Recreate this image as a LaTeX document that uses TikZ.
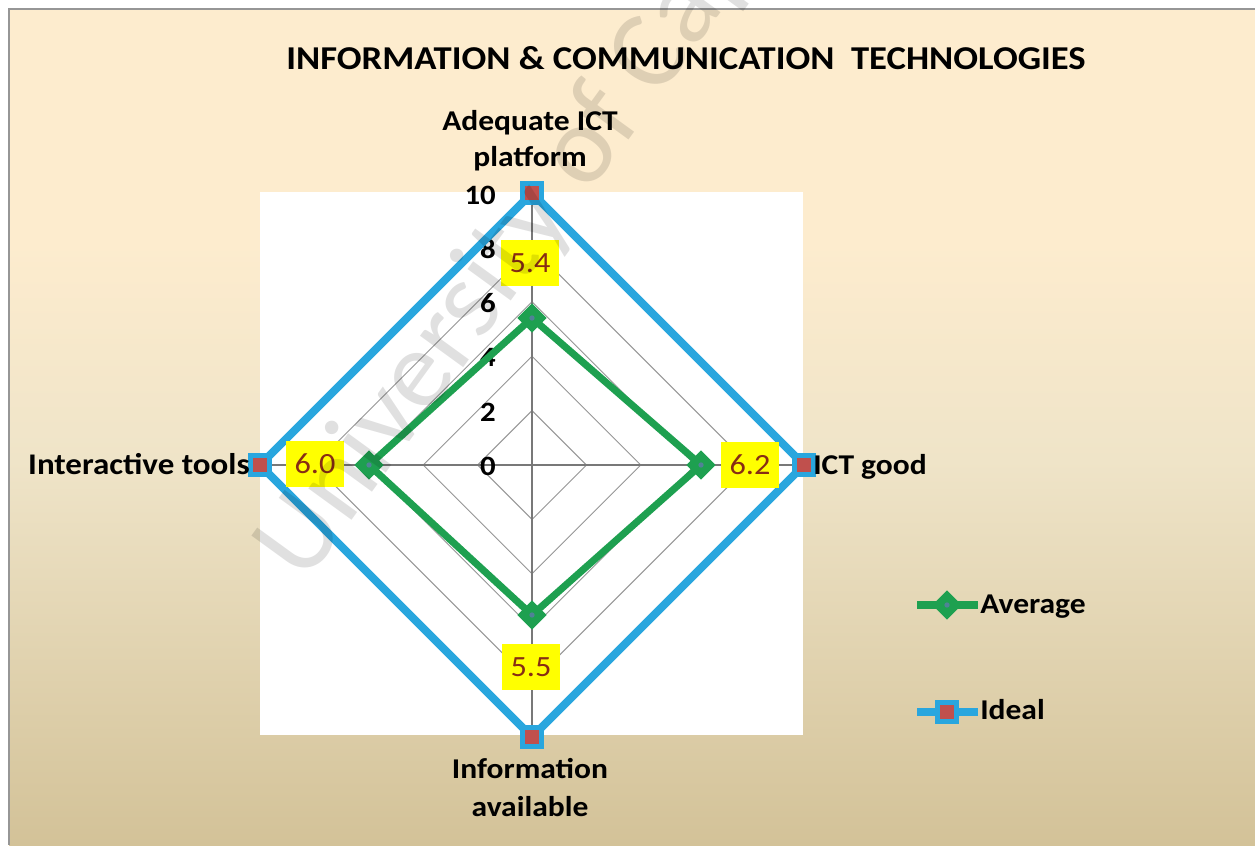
\documentclass[tikz,border=0pt]{standalone}
\usepackage{fontspec}
\setmainfont{Carlito}[FakeStretch=1.1]
\newfontfamily\wmfont{Carlito}
\usetikzlibrary{shapes.geometric}
\definecolor{bgtop}{RGB}{253,236,206}
\definecolor{bgmid}{RGB}{239,228,200}
\definecolor{bgbot}{RGB}{211,194,152}
\definecolor{framegray}{RGB}{150,150,150}
\definecolor{idealblue}{RGB}{41,166,222}
\definecolor{idealred}{RGB}{192,80,77}
\definecolor{avggreen}{RGB}{30,160,80}
\definecolor{avgdot}{RGB}{80,130,150}
\definecolor{lblyellow}{RGB}{255,255,0}
\definecolor{lbltext}{RGB}{135,45,20}
\definecolor{gridgray}{RGB}{150,150,150}
\definecolor{axisgray}{RGB}{120,120,120}
\pgfdeclareverticalshading{bgshade}{100bp}{color(0bp)=(bgbot); color(25bp)=(bgbot); color(48bp)=(bgmid); color(61bp)=(bgtop); color(100bp)=(bgtop)}
\begin{document}
\begin{tikzpicture}[x=0.75pt,y=-0.75pt,
  gridline/.style={draw=gridgray,line width=0.7pt},
  axisline/.style={draw=axisgray,line width=0.8pt},
  idealline/.style={draw=idealblue,line width=6pt,line join=miter},
  avgline/.style={draw=avggreen,line width=5.3pt,line join=round},
  idealmark/.style={rectangle,fill=idealblue,minimum size=18pt,inner sep=0pt,
    path picture={\fill[idealred] ([shift={(-5.2pt,-5.2pt)}]path picture bounding box.center) rectangle ([shift={(5.2pt,5.2pt)}]path picture bounding box.center);}},
  avgmark/.style={diamond,fill=avggreen,minimum size=22pt,inner sep=0pt,
    path picture={\fill[avgdot] (path picture bounding box.center) circle (2pt);}},
  datalbl/.style={rectangle,fill=lblyellow,text=lbltext,minimum width=43pt,minimum height=35pt,inner sep=0pt,font=\fontsize{22}{24}\selectfont},
  axlbl/.style={font=\fontsize{21.5}{27}\bfseries,inner sep=0pt,text=black},
  ticklbl/.style={font=\fontsize{21}{24}\bfseries,inner sep=0pt,anchor=base east},
  titlelbl/.style={font=\fontsize{25}{30}\bfseries,inner sep=0pt}
]
\useasboundingbox (0,0) rectangle (1255,845);
\fill[white] (0,0) rectangle (1255,845);
\shade[shading=bgshade] (9,9) rectangle (1255,845);
\draw[framegray,line width=1.2pt] (1255,9) -- (9,9) -- (9,845);
\fill[white] (260,192) rectangle (803,735);

% geometry
\coordinate (c) at (532,465);
\foreach \r in {2,4,6,8}{
  \draw[gridline] (532,465-27.2*\r) -- (532+27.2*\r,465) -- (532,465+27.2*\r) -- (532-27.2*\r,465) -- cycle;
}
\coordinate (it) at (532,193);
\coordinate (ir) at (804,465);
\coordinate (ib) at (532,737);
\coordinate (il) at (260,465);
\draw[axisline] (it) -- (ib);
\draw[axisline] (il) -- (ir);

% tick labels
\node[ticklbl] (t0) at (496,475) {0};
\node[ticklbl] (t2) at (496,421) {2};
\node[ticklbl] (t4) at (496,366) {4};
\node[ticklbl] (t6) at (496,312) {6};
\node[ticklbl] (t8) at (496,258) {8};
\node[ticklbl] (t10) at (496,204) {10};

% ideal series
\draw[idealline] (it) -- (ir) -- (ib) -- (il) -- cycle;
% average series
\coordinate (at) at (532,318);
\coordinate (ar) at (701,465);
\coordinate (ab) at (532,615);
\coordinate (al) at (369,465);
\draw[avgline] (at) -- (ar) -- (ab) -- (al) -- cycle;

\node[avgmark] (mat) at (at) {};
\node[avgmark] (mar) at (ar) {};
\node[avgmark] (mab) at (ab) {};
\node[avgmark] (mal) at (al) {};
\node[idealmark] (mit) at (it) {};
\node[idealmark] (mir) at (ir) {};
\node[idealmark] (mib) at (ib) {};
\node[idealmark] (mil) at (il) {};

% data labels
\node[datalbl] (d1) at (530,263) {5.4};
\node[datalbl] (d2) at (750,465) {6.2};
\node[datalbl] (d3) at (531,667) {5.5};
\node[datalbl] (d4) at (315,464) {6.0};

% axis labels
\node[axlbl,align=center,anchor=north] (lt) at (530,110) {Adequate ICT\\platform};
\node[axlbl,anchor=base west] (lr) at (813,474) {ICT good};
\node[axlbl,align=center,anchor=north,font=\fontsize{21.5}{28.5}\bfseries] (lb) at (530,758) {Information\\available};
\node[axlbl,anchor=base east,font=\fontsize{22.5}{27}\bfseries] (ll) at (250,474) {Interactive tools};

% title
\node[titlelbl,anchor=base] (title) at (686,70) {INFORMATION \& COMMUNICATION\ \ TECHNOLOGIES};

% legend
\coordinate (la1) at (917,605);
\coordinate (la2) at (978,605);
\draw[avgline] (la1) -- (la2);
\node[avgmark] (lam) at (947,605) {};
\node[axlbl,anchor=base west] (lat) at (980,613) {Average};
\coordinate (li1) at (917,712);
\coordinate (li2) at (978,712);
\draw[idealline] (li1) -- (li2);
\node[idealmark] (lim) at (947,712) {};
\node[axlbl,anchor=base west] (lit) at (980,719) {Ideal};

% watermark
\begin{scope}
\clip (0,0) rectangle (1255,845);
\node[anchor=base west,rotate=54,inner sep=0pt,text=black,opacity=0.12,font=\wmfont\fontsize{84}{90}\selectfont] (wm) at (305,585) {University of Cape Town};
\end{scope}
\end{tikzpicture}
\end{document}
